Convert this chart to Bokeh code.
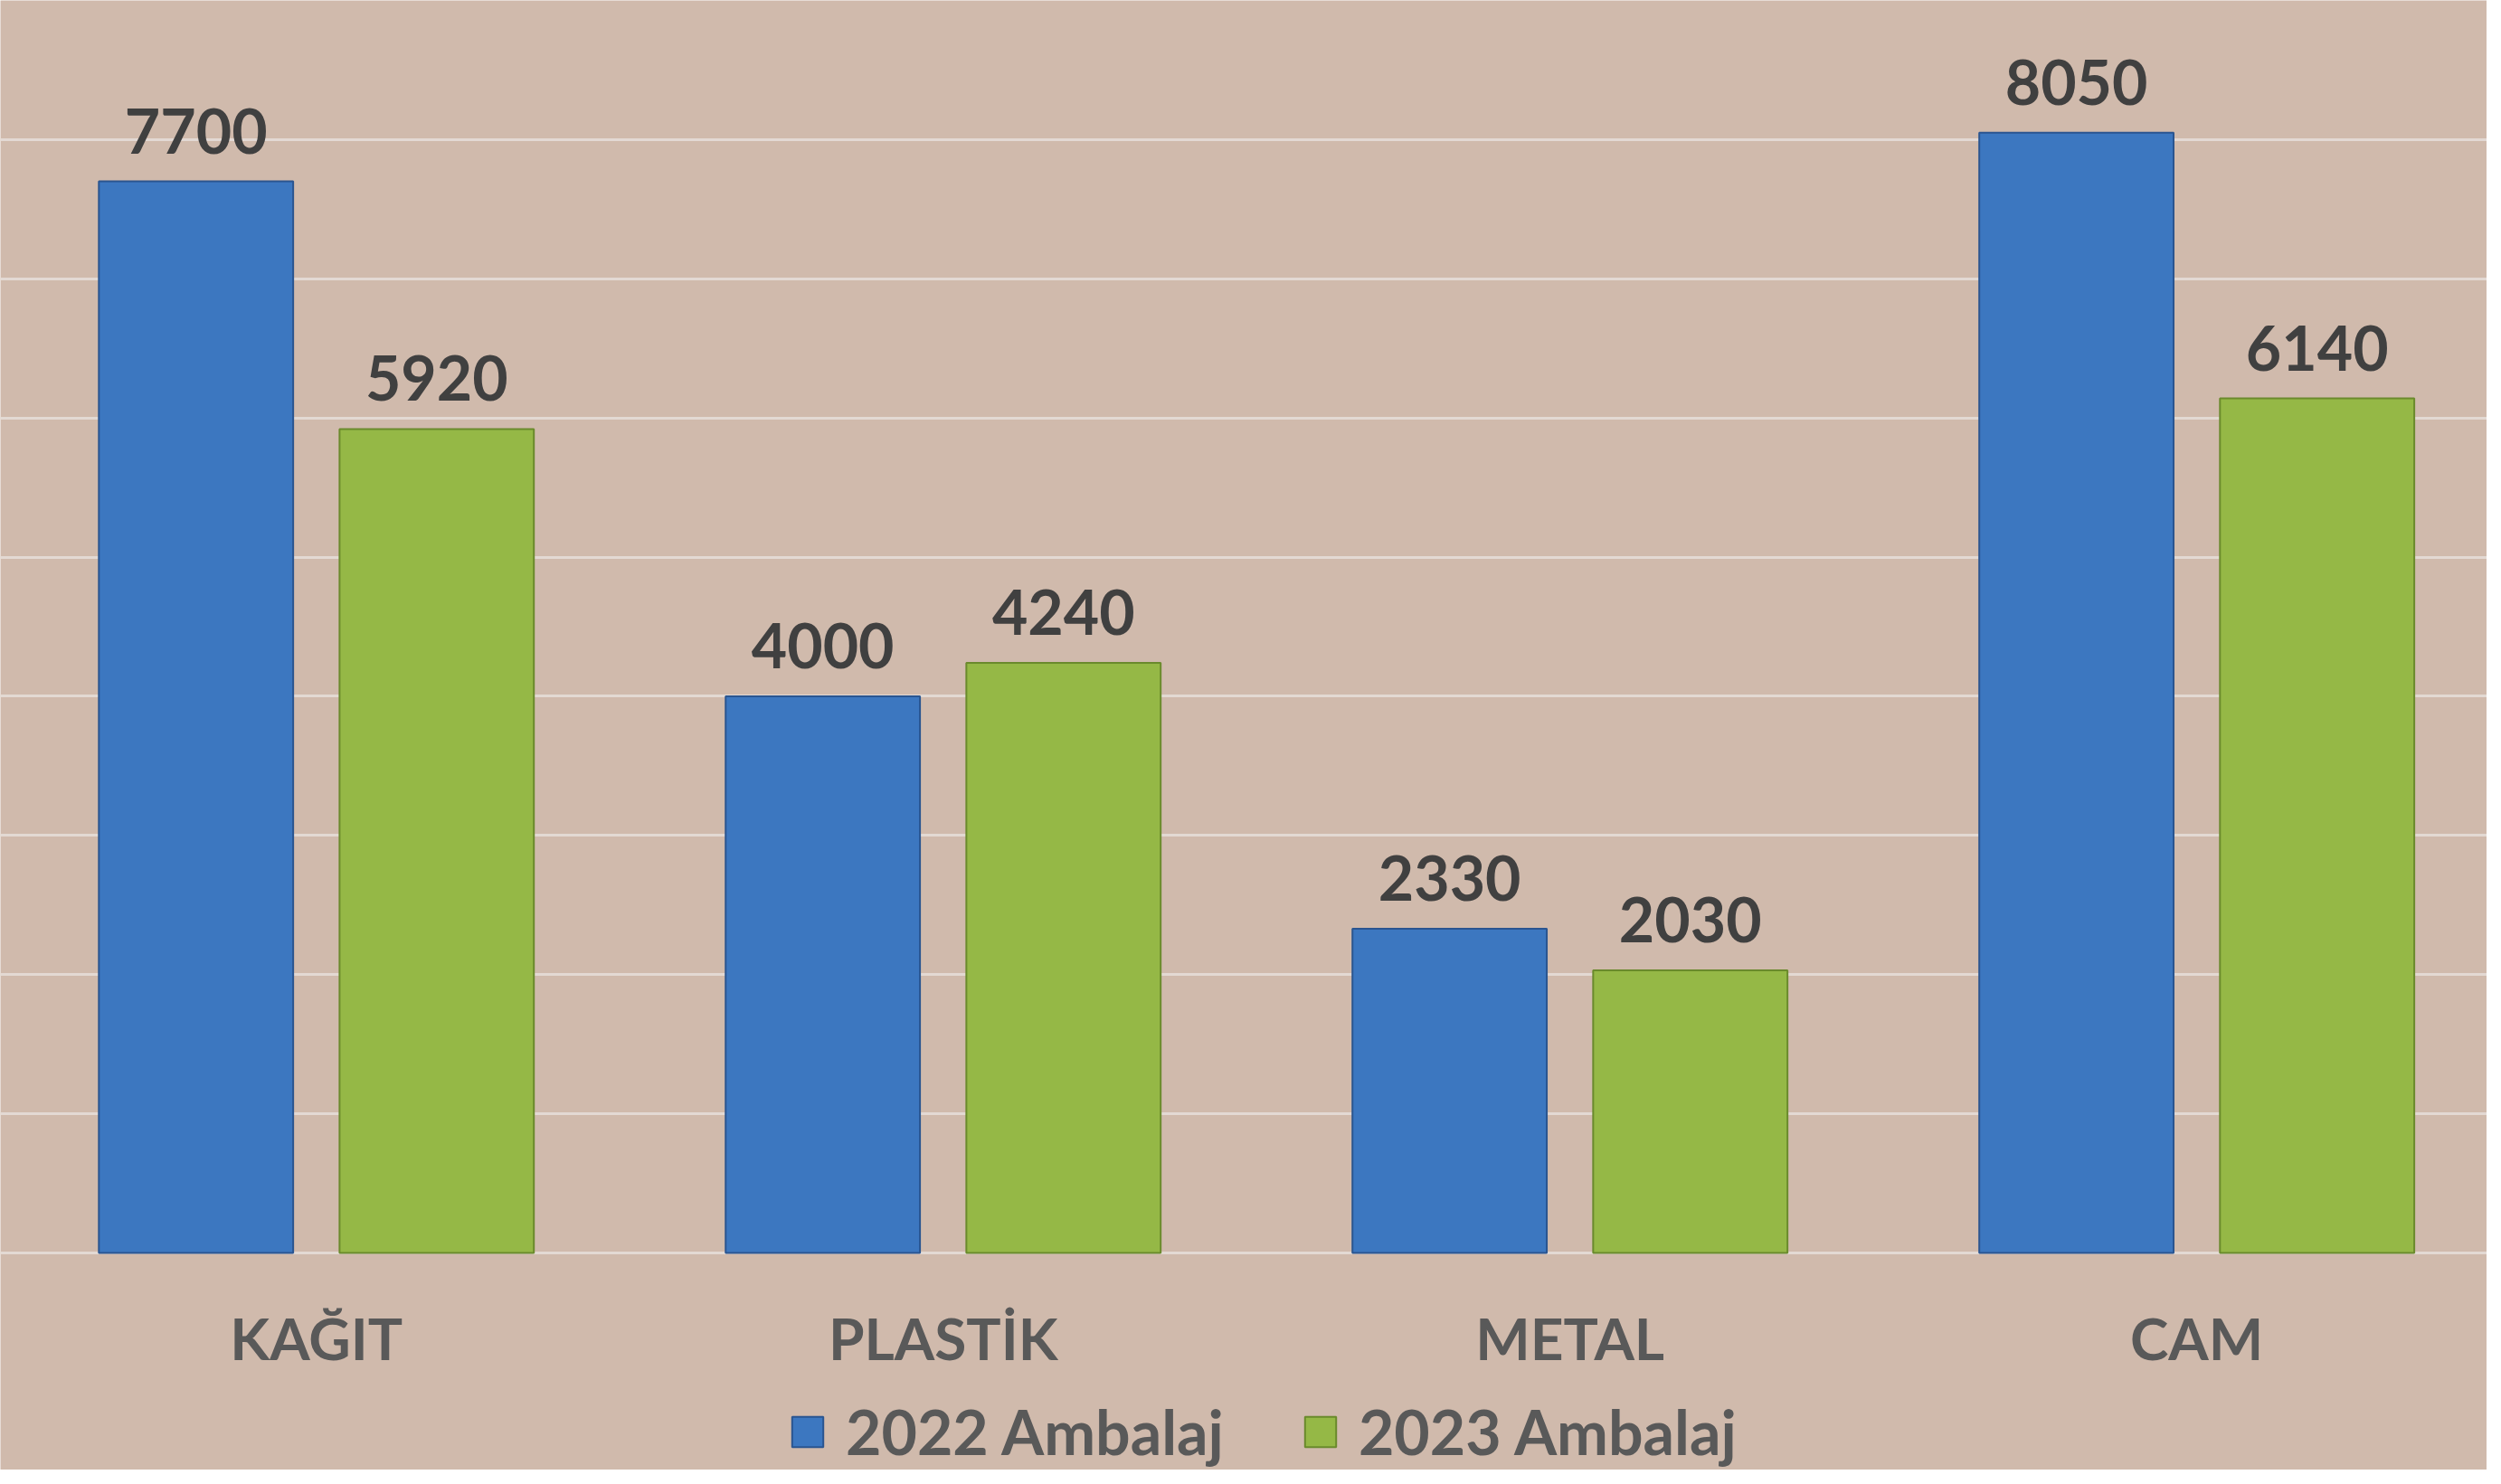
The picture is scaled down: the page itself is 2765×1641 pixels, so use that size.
from bokeh.plotting import figure
from bokeh.models import (ColumnDataSource, Range1d, FixedTicker, LabelSet, Legend,
                          LegendItem)
from bokeh.transform import dodge
from bokeh.core.properties import value
from bokeh.embed import file_html
from bokeh.resources import INLINE

# ---- data ----
categories = ["KAĞIT", "PLASTİK", "METAL", "CAM"]
series_names = ["2022 Ambalaj", "2023 Ambalaj"]
values_2022 = [7700, 4000, 2330, 8050]
values_2023 = [5920, 4240, 2030, 6140]
grid_values = list(range(0, 9001, 1000))

BG = "#D0BAAC"
GRID = "#E3D9D3"
FONT = "Lato"

W, H = 2749, 1625
BELOW = 240          # pixels below the zero line
Y_MAX = 9000
y_start = -Y_MAX * BELOW / (H - BELOW)

p = figure(width=W, height=H, output_backend="svg", toolbar_location=None,
           x_range=Range1d(-0.504, 3.463), y_range=Range1d(y_start, Y_MAX),
           min_border_left=0, min_border_right=0, min_border_top=0, min_border_bottom=0)
p.background_fill_color = BG
p.border_fill_color = BG
p.outline_line_color = None
p.xaxis.visible = False
p.yaxis.visible = False
p.xgrid.visible = False
p.ygrid.ticker = FixedTicker(ticks=grid_values)
p.ygrid.grid_line_color = GRID
p.ygrid.grid_line_width = 3

xs = list(range(len(categories)))
src = ColumnDataSource(dict(
    x=xs, cat=categories, v22=values_2022, v23=values_2023, zero=[0] * len(xs),
    l22=[str(v) for v in values_2022], l23=[str(v) for v in values_2023],
))

off = 0.192
bw = 0.31
r1 = p.vbar(x=dodge("x", -off), top="v22", width=bw, source=src,
            fill_color="#3C77C0", line_color="#2A5590", line_width=2)
r2 = p.vbar(x=dodge("x", off), top="v23", width=bw, source=src,
            fill_color="#95B846", line_color="#6A8A2C", line_width=2)

for col, lab, dx in (("v22", "l22", -off), ("v23", "l23", off)):
    p.add_layout(LabelSet(x=dodge("x", dx), y=col, text=lab, source=src,
                          text_align="center", text_baseline="alphabetic", y_offset=31,
                          text_font=value(FONT), text_font_style="bold",
                          text_font_size="68px", text_color="#404040"))

# category labels under the zero line
p.add_layout(LabelSet(x="x", y="zero", text="cat", source=src,
                      text_align="center", text_baseline="alphabetic", y_offset=-118,
                      text_font=value(FONT), text_font_style="bold",
                      text_font_size="64px", text_color="#595959"))

legend = Legend(items=[LegendItem(label=series_names[0], renderers=[r1]),
                       LegendItem(label=series_names[1], renderers=[r2])],
                orientation="horizontal", location=(871, 2),
                background_fill_alpha=0, border_line_color=None,
                label_text_font=FONT, label_text_font_style="bold",
                label_text_font_size="68px", label_text_color="#595959",
                glyph_width=43, glyph_height=42, label_standoff=21, spacing=85,
                padding=0, margin=0, label_height=60)
p.add_layout(legend)

open("out.html", "w").write(file_html(p, INLINE))
